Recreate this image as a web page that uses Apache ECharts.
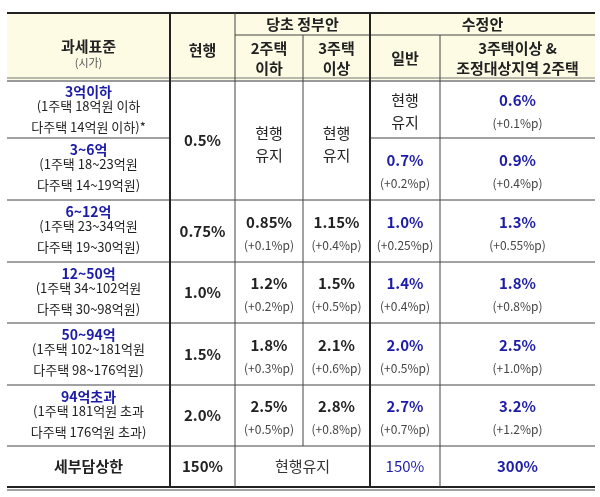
<!DOCTYPE html>
<html><head><meta charset="utf-8">
<script src="https://cdn.jsdelivr.net/npm/echarts@6/dist/echarts.min.js"></script>
<style>html,body{margin:0;padding:0;background:#fff}#c{width:600px;height:497px}</style>
</head><body><div id="c"></div>
<script>
const brackets = ['3억이하','3~6억','6~12억','12~50억','50~94억','94억초과'];
const bracketNotes = [
  ['(1주택 18억원 이하','다주택 14억원 이하)*'],
  ['(1주택 18~23억원','다주택 14~19억원)'],
  ['(1주택 23~34억원','다주택 19~30억원)'],
  ['(1주택 34~102억원','다주택 30~98억원)'],
  ['(1주택 102~181억원','다주택 98~176억원)'],
  ['(1주택 181억원 초과','다주택 176억원 초과)']
];
const current = ['0.5%','0.5%','0.75%','1.0%','1.5%','2.0%'];
const gov2 = ['','','0.85%','1.2%','1.8%','2.5%'];
const gov2Delta = ['','','(+0.1%p)','(+0.2%p)','(+0.3%p)','(+0.5%p)'];
const gov3 = ['','','1.15%','1.5%','2.1%','2.8%'];
const gov3Delta = ['','','(+0.4%p)','(+0.5%p)','(+0.6%p)','(+0.8%p)'];
const revGen = ['','0.7%','1.0%','1.4%','2.0%','2.7%'];
const revGenDelta = ['','(+0.2%p)','(+0.25%p)','(+0.4%p)','(+0.5%p)','(+0.7%p)'];
const rev3 = ['0.6%','0.9%','1.3%','1.8%','2.5%','3.2%'];
const rev3Delta = ['(+0.1%p)','(+0.4%p)','(+0.55%p)','(+0.8%p)','(+1.0%p)','(+1.2%p)'];
const capRow = ['세부담상한','150%','현행유지','150%','300%'];
const keep = '현행\n유지';

const X = [7,170,235,303,370,440,595];
const RY = [80,138,200,262,323,385,446,487];
const HT = 13, HM = 35;
const BLUE = '#1c1ca8', FONT = '"Noto Sans CJK KR", sans-serif', YEL = '#fdfbe4';
const els = [];
function rect(x1,y1,x2,y2,fill){els.push({type:'rect',shape:{x:x1,y:y1,width:x2-x1,height:y2-y1},style:{fill:fill},silent:true});}
function line(x1,y1,x2,y2,w,c){els.push({type:'line',shape:{x1,y1,x2,y2},style:{stroke:c||'#333',lineWidth:w||1},silent:true});}
function txt(s,x,y,size,color,weight,lh){els.push({type:'text',x:x,y:y,style:{text:s,fill:color||'#222',font:(weight||'normal')+' '+size+'px '+FONT,align:'center',verticalAlign:'middle',lineHeight:lh||size*1.35},silent:true});}
const cx = i => (X[i]+X[i+1])/2;

rect(X[0],HT,X[6],RY[0],YEL);
txt('과세표준',cx(0),46,15,'#222','bold');
txt('(시가)',cx(0),63,11,'#555');
txt('현행',cx(1),50,15,'#222','bold');
txt('당초 정부안',(X[2]+X[4])/2,24,15,'#222','bold');
txt('수정안',(X[4]+X[6])/2,24,15,'#222','bold');
txt('2주택\n이하',cx(2),58,15,'#222','bold',20);
txt('3주택\n이상',cx(3),58,15,'#222','bold',20);
txt('일반',cx(4),58,15,'#222','bold');
txt('3주택이상 &\n조정대상지역 2주택',cx(5),58,15,'#222','bold',20);

for(let r=0;r<6;r++){
  const y0=RY[r], y1=RY[r+1];
  txt(brackets[r],cx(0),y0+12,14,BLUE,'bold');
  txt(bracketNotes[r].join('\n'),cx(0),y0+37,13,'#222','normal',21);
  const mid=(y0+y1)/2;
  if(r>=2){
    txt(current[r],cx(1),mid,15,'#222','bold');
    txt(gov2[r],cx(2),mid-9,15,'#222','bold');
    txt(gov2Delta[r],cx(2),mid+14,12,'#444');
    txt(gov3[r],cx(3),mid-9,15,'#222','bold');
    txt(gov3Delta[r],cx(3),mid+14,12,'#444');
  }
  if(revGen[r]){
    txt(revGen[r],cx(4),mid-9,15,BLUE,'bold');
    txt(revGenDelta[r],cx(4),mid+14,12,'#444');
  }
  txt(rev3[r],cx(5),mid-9,15,BLUE,'bold');
  txt(rev3Delta[r],cx(5),mid+14,12,'#444');
}
txt(current[0],cx(1),RY[1]+2,15,'#222','bold');
txt(keep,cx(2),RY[1]+6,15,'#222','normal',22);
txt(keep,cx(3),RY[1]+6,15,'#222','normal',22);
txt(keep,cx(4),RY[0]+31,15,'#222','normal',22);
const cy=(RY[6]+RY[7])/2;
txt(capRow[0],cx(0),cy,15,'#222','bold');
txt(capRow[1],cx(1),cy,15,'#222','bold');
txt(capRow[2],(X[2]+X[4])/2,cy,15,'#333');
txt(capRow[3],cx(4),cy,15,BLUE);
txt(capRow[4],cx(5),cy,15,BLUE,'bold');

line(X[0],HT,X[6],HT,2,'#222');
line(X[2],HM,X[6],HM,1,'#444');
line(X[0],RY[0]-2,X[6],RY[0]-2,1,'#777');
line(X[0],RY[0]+1,X[6],RY[0]+1,1.5,'#777');
for(let r=2;r<7;r++) line(X[0],RY[r],X[6],RY[r],1,'#444');
line(X[0],RY[1],X[1],RY[1],1,'#444');
line(X[4],RY[1],X[6],RY[1],1,'#444');
line(X[0],RY[7],X[6],RY[7],2,'#222');
line(X[0],RY[7]+3,X[6],RY[7]+3,1,'#444');
line(X[1],HT,X[1],RY[7],2,'#222');
line(X[2],HT,X[2],RY[7],1,'#444');
line(X[3],HM,X[3],RY[6],1,'#444');
line(X[4],HT,X[4],RY[7],2,'#222');
line(X[5],HM,X[5],RY[7],1,'#444');

const chart = echarts.init(document.getElementById('c'));
chart.setOption({animation:false,graphic:{elements:els}});
</script></body></html>
